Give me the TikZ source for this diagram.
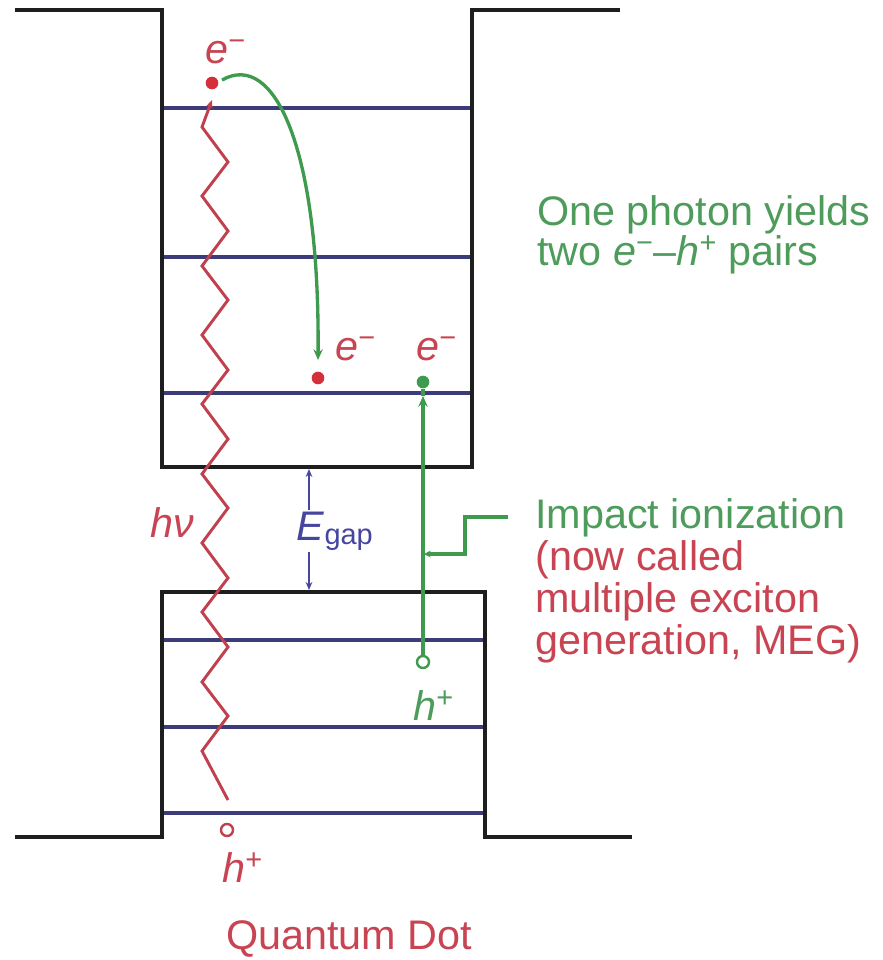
\documentclass[tikz,border=0pt]{standalone}
\usepackage{fontspec}
\setmainfont{Liberation Sans}
\usetikzlibrary{arrows.meta}
\definecolor{outl}{HTML}{1E1E1E}
\definecolor{lvl}{HTML}{3C3C7A}
\definecolor{rd}{HTML}{D4303C}
\definecolor{rdtxt}{HTML}{C84452}
\definecolor{rdline}{HTML}{C0404E}
\definecolor{gr}{HTML}{3E9A4C}
\definecolor{grtxt}{HTML}{4E9C5C}
\definecolor{egb}{HTML}{4646A0}
\tikzset{
  outline/.style={draw=outl, line width=3.4pt, line join=miter},
  level/.style={draw=lvl, line width=2.8pt},
  wave/.style={draw=rdline, line width=2.2pt, line join=miter},
  gline/.style={draw=gr, line width=2.5pt},
  garrow/.style={gline, -{Stealth[length=8pt,width=7pt]}},
  edot/.style={circle, fill=#1, inner sep=0pt, minimum size=9.5pt},
  hole/.style={circle, draw=#1, line width=1.8pt, fill=white, inner sep=0pt, minimum size=9pt},
  lbl/.style={inner sep=0pt, anchor=base west, font=\fontsize{31}{37}\selectfont},
}
\begin{document}
\begin{tikzpicture}[x=0.75pt,y=-0.75pt]
\useasboundingbox (0,0) rectangle (882,960);
% energy levels
\foreach \yy in {108,257,393} \draw[level] (162,\yy) -- (472,\yy);
\foreach \yy in {640,727,813} \draw[level] (162,\yy) -- (485,\yy);
% well outline
\draw[outline] (15,10) -- (162,10) -- (162,467) -- (472,467) -- (472,10) -- (620,10);
\draw[outline] (15,837) -- (162,837) -- (162,592) -- (485,592) -- (485,837) -- (632,837);
% photon (wavy)
\draw[wave, -{Stealth[length=6pt,width=5pt]}] (228,800) -- (202,751) -- (228,716) -- (202,682) -- (228,647) -- (202,612) -- (228,578) -- (202,543) -- (228,508) -- (202,474) -- (228,439) -- (202,404) -- (228,370) -- (202,335) -- (228,300) -- (202,266) -- (228,231) -- (202,196) -- (228,162) -- (202,127) -- (212,100);
% carriers
\node[edot=rd] (e1) at (212,83) {};
\node[edot=rd] (e2) at (318,378) {};
\node[edot=gr] (e3) at (423,382) {};
\node[hole=rdline] (h1) at (227,830) {};
\node[hole=gr] (h2) at (423,662) {};
\coordinate (a2) at (318,360);
\coordinate (a3) at (423,396);
% green transitions
\draw[garrow] (222,80) .. controls (275,50) and (320,150) .. (a2);
\draw[gline] (a3) -- (e3);
\draw[garrow] (h2.north) -- (a3);
% impact ionization pointer
\coordinate (p0) at (508,517);
\coordinate (p1) at (465,517);
\coordinate (p2) at (465,554);
\coordinate (p3) at (424,554);
\draw[gline, -{Stealth[length=5pt,width=5pt]}] (p0) -- (p1) -- (p2) -- (p3);
% Egap
\coordinate (g1) at (309,469);
\coordinate (g2) at (309,590);
\draw[draw=egb, line width=1.5pt, {Stealth[length=6pt,width=5pt]}-{Stealth[length=6pt,width=5pt]}] (g1) -- (g2);
\node[lbl, text=egb, fill=white, inner sep=1pt] (eg) at (295,540) {\textit{E}\textsubscript{gap}};
% labels
\node[lbl, text=rdtxt] (le1) at (205,63) {\textit{e}\textsuperscript{−}};
\node[lbl, text=rdtxt] (le2) at (335,360) {\textit{e}\textsuperscript{−}};
\node[lbl, text=rdtxt] (le3) at (416,360) {\textit{e}\textsuperscript{−}};
\node[lbl, text=rdtxt] (hv) at (150,537) {\textit{hν}};
\node[lbl, text=grtxt] (lh2) at (413,720) {\textit{h}\textsuperscript{+}};
\node[lbl, text=rdtxt] (lh1) at (222,882) {\textit{h}\textsuperscript{+}};
\node[lbl, text=grtxt] (t1) at (537,225) {One photon yields};
\node[lbl, text=grtxt] (t2) at (537,265) {two \textit{e}\textsuperscript{−}–\textit{h}\textsuperscript{+} pairs};
\node[lbl, text=grtxt] (t3) at (535,528) {Impact ionization};
\node[lbl, text=rdtxt] (t4) at (535,570) {(now called};
\node[lbl, text=rdtxt] (t5) at (535,612) {multiple exciton};
\node[lbl, text=rdtxt] (t6) at (535,654) {generation, MEG)};
\node[lbl, text=rdtxt] (qd) at (226,949) {Quantum Dot};
\end{tikzpicture}
\end{document}
